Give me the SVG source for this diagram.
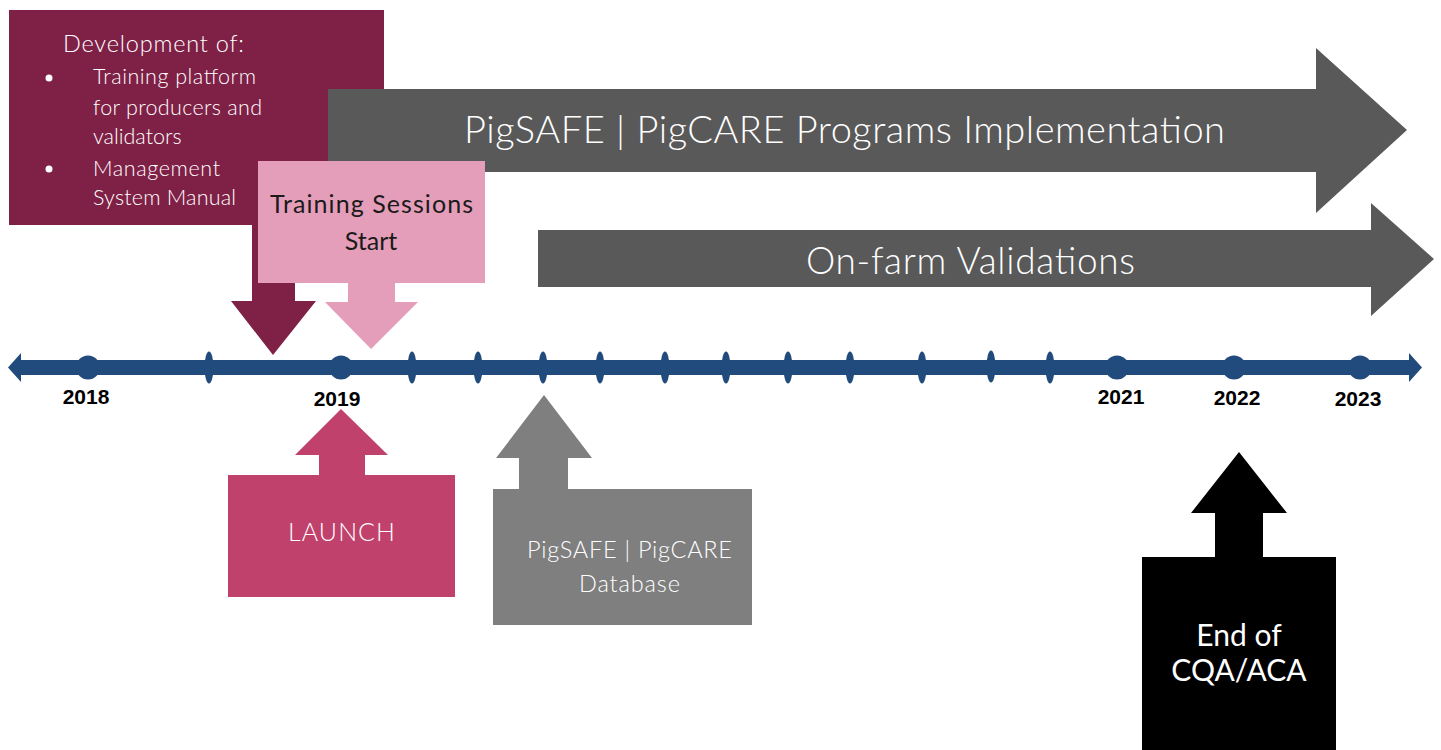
<svg xmlns="http://www.w3.org/2000/svg" width="1441" height="750" viewBox="0 0 1441 750">
<defs>
<style>
.lt{font-family:Lato,"Open Sans","Liberation Sans",sans-serif;font-weight:300;}
.rg{font-weight:400;}
.w{fill:#ffffff;}
.yr{font-family:"Liberation Sans",Arial,sans-serif;font-weight:bold;font-size:21px;fill:#000;text-anchor:middle;}
.tl{fill:#214B7C;}
</style>
</defs>
<rect width="1441" height="750" fill="#ffffff"/>
<g id="timeline">
<rect class="tl" x="18" y="360" width="1394" height="15"/>
<polygon class="tl" points="21,353 8,367.5 21,382"/>
<polygon class="tl" points="1409,353 1422,367.5 1409,382"/>
<g class="tl">
<circle cx="88" cy="367.5" r="12"/>
<circle cx="341" cy="367.5" r="12"/>
<circle cx="1117" cy="367.5" r="12"/>
<circle cx="1234" cy="367.5" r="12"/>
<circle cx="1360" cy="367.5" r="12"/>
<ellipse cx="209" cy="367.5" rx="4.5" ry="16"/>
<ellipse cx="412" cy="367.5" rx="4.5" ry="16"/>
<ellipse cx="478" cy="367.5" rx="4.5" ry="16"/>
<ellipse cx="543" cy="367.5" rx="4.5" ry="16"/>
<ellipse cx="600" cy="367.5" rx="4.5" ry="16"/>
<ellipse cx="665" cy="367.5" rx="4.5" ry="16"/>
<ellipse cx="726" cy="367.5" rx="4.5" ry="16"/>
<ellipse cx="788" cy="367.5" rx="4.5" ry="16"/>
<ellipse cx="850" cy="367.5" rx="4.5" ry="16"/>
<ellipse cx="922" cy="367.5" rx="4.5" ry="16"/>
<ellipse cx="991" cy="366.5" rx="4.5" ry="16"/>
<ellipse cx="1050" cy="367.5" rx="4.5" ry="16"/>
</g>
<text class="yr" x="86" y="404">2018</text>
<text class="yr" x="337" y="406">2019</text>
<text class="yr" x="1121" y="404">2021</text>
<text class="yr" x="1237" y="405">2022</text>
<text class="yr" x="1358" y="406">2023</text>
</g>
<g id="development">
<polygon fill="#7F2146" points="9,10 384,10 384,225 295,225 295,301 316,301 273,355 231,301 252,301 252,225 9,225"/>
<g class="lt w" font-size="21.5">
<text x="63" y="52" font-size="23.5" textLength="181" lengthAdjust="spacing">Development of:</text>
<circle cx="49" cy="78" r="3.5"/>
<text x="93" y="84" textLength="163" lengthAdjust="spacing">Training platform</text>
<text x="93" y="115" textLength="169" lengthAdjust="spacing">for producers and</text>
<text x="93" y="144">validators</text>
<circle cx="49" cy="169" r="3.5"/>
<text x="93" y="176" textLength="127" lengthAdjust="spacing">Management</text>
<text x="93" y="205" textLength="143" lengthAdjust="spacing">System Manual</text>
</g>
</g>
<g id="implementation">
<polygon fill="#595959" points="328,89 1316,89 1316,48 1407,130 1316,213 1316,172 328,172"/>
<text class="lt w" x="464" y="143" font-size="38" textLength="761" lengthAdjust="spacing">PigSAFE | PigCARE Programs Implementation</text>
</g>
<g id="training">
<polygon fill="#E59EB9" points="258,161 485,161 485,283 395,283 395,302 418,302 371,349 325,302 348,302 348,283 258,283"/>
<g class="lt rg" fill="#1a1a1a" font-size="25">
<text x="270" y="213" textLength="203" lengthAdjust="spacing">Training Sessions</text>
<text x="371" y="250" text-anchor="middle">Start</text>
</g>
</g>
<g id="onfarm">
<polygon fill="#595959" points="538,230 1371,230 1371,203 1434,259 1371,316 1371,287 538,287"/>
<text class="lt w" x="806" y="274" font-size="37" textLength="329" lengthAdjust="spacing">On-farm Validations</text>
</g>
<g id="launch">
<polygon fill="#C0426C" points="228,475 319,475 319,455 295,455 341,409 388,455 365,455 365,475 455,475 455,597 228,597"/>
<text class="lt w" x="288" y="541" font-size="25" textLength="107" lengthAdjust="spacing">LAUNCH</text>
</g>
<g id="database">
<polygon fill="#7F7F7F" points="493,489 519,489 519,458 496,458 544,395 592,458 568,458 568,489 752,489 752,625 493,625"/>
<g class="lt w" font-size="23.5">
<text x="527" y="558" textLength="205" lengthAdjust="spacing">PigSAFE | PigCARE</text>
<text x="579" y="592" textLength="101" lengthAdjust="spacing">Database</text>
</g>
</g>
<g id="end">
<polygon fill="#000000" points="1142,557 1215,557 1215,513 1191,513 1239,452 1287,513 1263,513 1263,557 1336,557 1336,750 1142,750"/>
<g class="lt rg w" font-size="30" text-anchor="middle">
<text x="1239" y="646">End of</text>
<text x="1239" y="681">CQA/ACA</text>
</g>
</g>
</svg>
